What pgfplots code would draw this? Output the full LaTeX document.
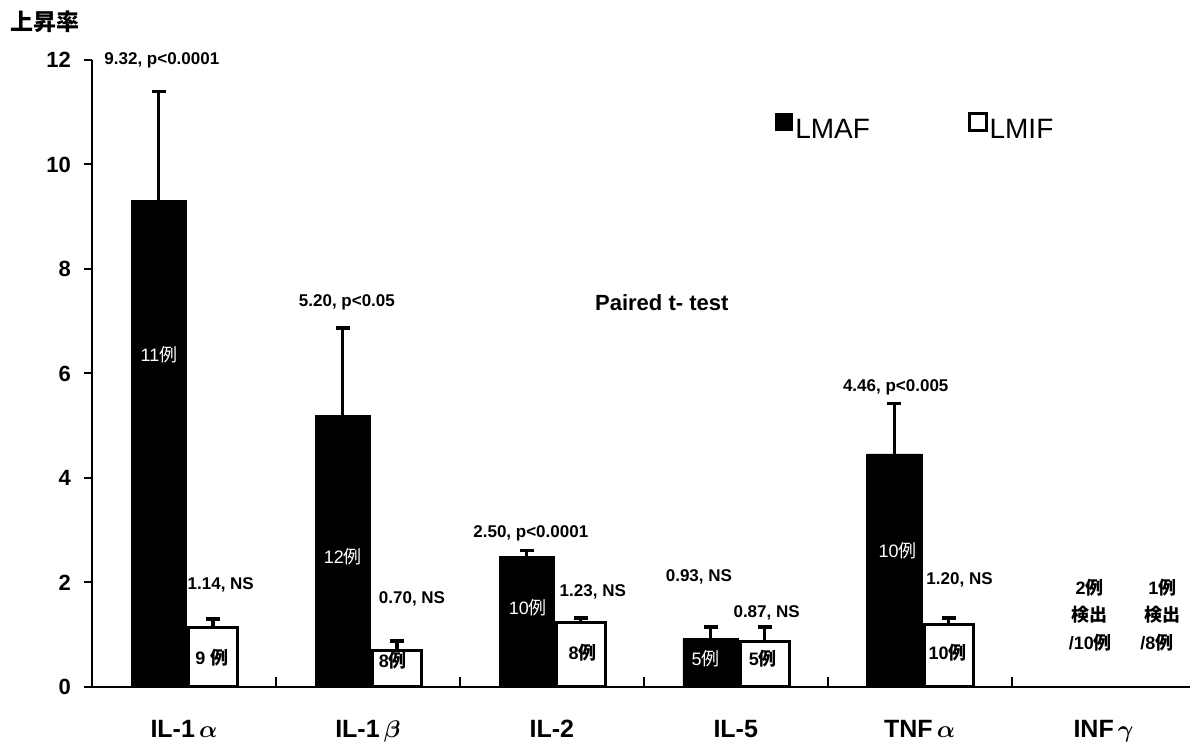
\documentclass[border=0pt]{standalone}
\usepackage{fontspec}
\setmainfont{Liberation Sans}
\newfontfamily\cjk{Noto Sans CJK JP}
\usepackage{bm}
\usepackage{pgfplots}
\pgfplotsset{compat=1.18}
\newcommand{\ex}{{\cjk 例}}
\tikzset{
  ann/.style={font=\bfseries\fontsize{8.5}{10}\selectfont},
  inw/.style={font=\fontsize{9}{10}\selectfont, text=white},
  inb/.style={font=\bfseries\fontsize{9}{10}\selectfont},
}
\begin{document}
\begin{tikzpicture}
\begin{axis}[
  name=ax,
  scale only axis, width=549pt, height=313.5pt,
  xmin=-0.5, xmax=5.47, ymin=0, ymax=12,
  axis x line=bottom, axis y line=left,
  axis line style={-, line width=1pt},
  clip=false,
  tick align=outside,
  major tick length=4pt,
  tick style={line width=1pt, black},
  ytick={0,2,...,12},
  yticklabel style={font=\bfseries\fontsize{11}{13}\selectfont, xshift=-3pt},
  /pgf/number format/assume math mode=true,
  xtick={0,1,2,3,4,5},
  xticklabels={IL-1\,$\bm{\alpha}$, IL-1\,$\bm{\beta}$, IL-2, IL-5, TNF\,$\bm{\alpha}$, INF\,$\bm{\gamma}$},
  xtick style={draw=none},
  xticklabel style={font=\bfseries\fontsize{12.5}{14}\selectfont, anchor=base, yshift=-21.5pt},
  extra x ticks={0.5,1.5,2.5,3.5,4.5},
  extra x tick labels={},
  extra x tick style={tick align=inside, major tick length=5pt, xtick style={draw=black}},
  legend style={at={(axis cs:3.212,10.70)}, anchor=west, draw=none, fill=none,
    font=\fontsize{14}{16}\selectfont, inner sep=0pt,
    nodes={inner sep=1pt},
    /tikz/every even column/.append style={column sep=48pt}},
  legend columns=2,
  legend cell align=left,
  legend image code/.code={\draw[#1] (0pt,0pt) rectangle (8.5pt,8.5pt);},
]
\addlegendimage{fill=black, draw=black, line width=0.6pt}
\addlegendentry{LMAF}
\addlegendimage{fill=white, draw=black, line width=1.3pt}
\addlegendentry{LMIF}

% LMAF (black), left bar of each group
\addplot[ybar, bar width=0.30, bar shift=0pt, fill=black, draw=black, line width=0.4pt, forget plot,
  error bars/.cd, y dir=plus, y explicit,
  error bar style={line width=1.6pt, black},
  error mark options={rotate=90, line width=1.6pt, mark size=3.5pt, black}]
  table[x=x, y=y, y error=e] {
x y e
-0.137 9.32 2.07
0.863 5.20 1.67
1.863 2.50 0.11
2.863 0.93 0.22
3.863 4.46 0.96
};
% LMIF (white), right bar of each group
\addplot[ybar, bar width=0.266, bar shift=0pt, fill=white, draw=black, line width=1.5pt, forget plot,
  error bars/.cd, y dir=plus, y explicit,
  error bar style={line width=1.6pt, black},
  error mark options={rotate=90, line width=1.6pt, mark size=3.5pt, black}]
  table[x=x, y=y, y error=e] {
x y e
0.158 1.14 0.16
1.158 0.70 0.18
2.158 1.23 0.09
3.158 0.87 0.28
4.158 1.20 0.12
};

\node[font=\cjk\bfseries\fontsize{11.5}{13}\selectfont] at (axis cs:-0.755,12.73) {上昇率};

\node[ann] at (axis cs:-0.12,12.0) {9.32, p<0.0001};
\node[ann] at (axis cs:0.20,1.95) {1.14, NS};
\node[inw] at (axis cs:-0.136,6.35) {11\ex};
\node[inb] at (axis cs:0.152,0.56) {9 \ex};

\node[ann] at (axis cs:0.886,7.37) {5.20, p<0.05};
\node[inw] at (axis cs:0.864,2.49) {12\ex};
\node[ann] at (axis cs:1.24,1.68) {0.70, NS};
\node[inb] at (axis cs:1.136,0.50) {8\ex};

\node[font=\bfseries\fontsize{11}{13}\selectfont] at (axis cs:2.598,7.35) {Paired t- test};

\node[ann] at (axis cs:1.886,2.95) {2.50, p<0.0001};
\node[inw] at (axis cs:1.87,1.51) {10\ex};
\node[ann] at (axis cs:2.223,1.82) {1.23, NS};
\node[inb] at (axis cs:2.168,0.65) {8\ex};

\node[ann] at (axis cs:2.80,2.11) {0.93, NS};
\node[ann] at (axis cs:3.168,1.42) {0.87, NS};
\node[inw] at (axis cs:2.837,0.54) {5\ex};
\node[inb] at (axis cs:3.147,0.54) {5\ex};

\node[ann] at (axis cs:3.87,5.74) {4.46, p<0.005};
\node[inw] at (axis cs:3.88,2.60) {10\ex};
\node[ann] at (axis cs:4.217,2.05) {1.20, NS};
\node[inb] at (axis cs:4.152,0.65) {10\ex};

\node[inb] at (axis cs:4.924,1.91) {2\ex};
\node[inb] at (axis cs:4.924,1.38) {{\cjk 検出}};
\node[inb] at (axis cs:4.928,0.84) {/10\ex};
\node[inb] at (axis cs:5.32,1.91) {1\ex};
\node[inb] at (axis cs:5.32,1.38) {{\cjk 検出}};
\node[inb] at (axis cs:5.29,0.84) {/8\ex};
\end{axis}
\pgfresetboundingbox
\path ([xshift=-46pt, yshift=-28.5pt]ax.south west) rectangle ([xshift=2pt, yshift=30pt]ax.north east);
\end{tikzpicture}
\end{document}
